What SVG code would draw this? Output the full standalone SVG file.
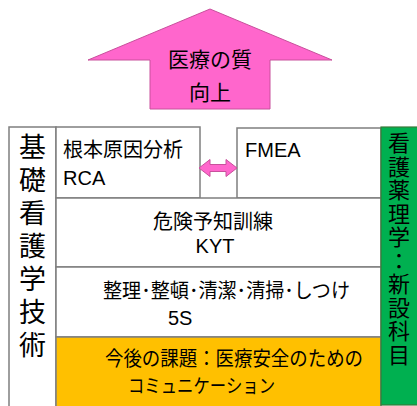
<svg xmlns="http://www.w3.org/2000/svg" width="417" height="406" viewBox="0 0 417 406">
<style>
text{font-family:"Liberation Sans","Noto Sans CJK JP",sans-serif;fill:#000;}
.box{stroke:#7f7f7f;stroke-width:1.5;}
.t20{font-size:20px;}
.mid{text-anchor:middle;}
</style>
<rect width="417" height="406" fill="#fff"/>
<g id="quality-arrow">
<polygon points="210,9 332,60 270,60 270,109 150,109 150,60 88,60" fill="#ff66cc" stroke="#c8509c" stroke-width="1"/>
<text x="210" y="67" class="mid" font-size="21">医療の質</text>
<text x="210" y="100" class="mid" font-size="21">向上</text>
</g>
<g id="kiso">
<rect x="9" y="127" width="47" height="290" fill="#fff" class="box"/>
<g font-size="27" text-anchor="middle">
<text x="32.5" y="157">基</text>
<text x="32.5" y="190">礎</text>
<text x="32.5" y="223">看</text>
<text x="32.5" y="256">護</text>
<text x="32.5" y="289">学</text>
<text x="32.5" y="322">技</text>
<text x="32.5" y="355">術</text>
</g>
</g>
<g id="rca">
<rect x="56" y="127" width="144" height="71" fill="#fff" class="box"/>
<text x="63" y="157" class="t20">根本原因分析</text>
<text x="63" y="185" class="t20">RCA</text>
</g>
<g id="fmea">
<rect x="237" y="128" width="144" height="70" fill="#fff" class="box" stroke="#555"/>
<text x="245" y="157" class="t20">FMEA</text>
</g>
<g id="kyt">
<rect x="56" y="198" width="325" height="69" fill="#fff" class="box"/>
<text x="213" y="229" class="t20 mid">危険予知訓練</text>
<text x="215" y="253" class="t20 mid">KYT</text>
</g>
<g id="fives">
<rect x="56" y="267" width="325" height="70" fill="#fff" class="box"/>
<text x="103" y="298" font-size="20" textLength="247" lengthAdjust="spacingAndGlyphs">整理･整頓･清潔･清掃･しつけ</text>
<text x="168" y="325" class="t20">5S</text>
</g>
<g id="future">
<rect x="56" y="337" width="325" height="80" fill="#ffc000" class="box"/>
<text x="105" y="366" font-size="20" textLength="258" lengthAdjust="spacingAndGlyphs">今後の課題：医療安全のための</text>
<text x="128" y="393" font-size="19" textLength="147" lengthAdjust="spacingAndGlyphs">コミュニケーション</text>
</g>
<g id="yakuri">
<rect x="381" y="127" width="40" height="278" fill="#00b050" stroke="#3a7a3a" stroke-width="1.2"/>
<g font-size="22" text-anchor="middle">
<text x="399" y="151">看</text>
<text x="399" y="174.5">護</text>
<text x="399" y="198">薬</text>
<text x="399" y="221.5">理</text>
<text x="399" y="245">学</text>
<text x="399" y="268.5">：</text>
<text x="399" y="292">新</text>
<text x="399" y="315.5">設</text>
<text x="399" y="339">科</text>
<text x="399" y="362.5">目</text>
</g>
</g>
<g id="connectors">
<polygon points="199,168 210,159.5 210,164.5 226,164.5 226,159.5 237,168 226,176.5 226,171.5 210,171.5 210,176.5" fill="#ff66cc" stroke="#c8509c" stroke-width="1"/>
</g>
</svg>
